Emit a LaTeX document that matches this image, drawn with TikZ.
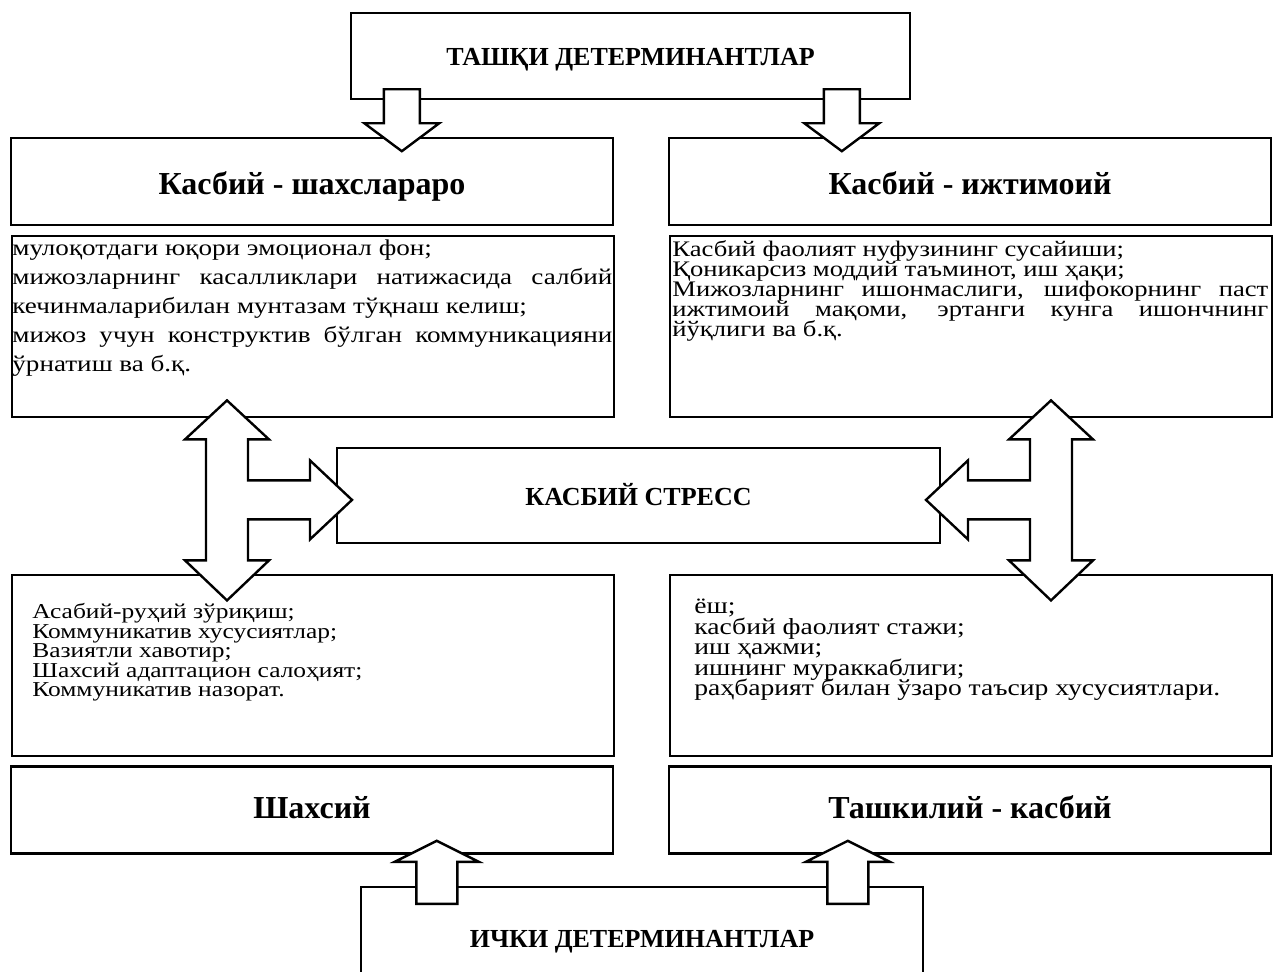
\documentclass[tikz,border=0pt]{standalone}
\usepackage{fontspec}
\setmainfont{Liberation Serif}
\newfontfamily\listfont{Liberation Serif}[FakeStretch=1.2]
\usetikzlibrary{positioning, calc}
\newcommand\tightlines{\lineskiplimit=-100pt\relax}
\tikzset{
    frame/.style={
        draw, line width=1.2pt, inner sep=0pt
    },
    capsbox/.style={
        frame, text height=9.6pt, text depth=0pt, font=\fontsize{13}{15}\selectfont\bfseries
    },
    headbox/.style={
        frame, minimum width=301pt, minimum height=43.5pt, text height=11.5pt, text depth=3.5pt,
        font=\fontsize{16}{19}\selectfont\bfseries
    },
    listbox/.style={
        frame, anchor=north west, minimum width=301pt, minimum height=90.5pt
    },
    listtext/.style={
        anchor=north west, inner sep=0pt, text width=#1
    },
    blockarrow/.style={
        draw, line width=1.2pt, fill=white, line join=miter
    }
}

\begin{document}
\begin{tikzpicture}[x=0.5pt, y=-0.5pt]
\useasboundingbox (0,0) rectangle (1276,971);
% boxes
\node[capsbox, minimum width=279.5pt, minimum height=43pt] (ext) at (630.5,56) {ТАШҚИ ДЕТЕРМИНАНТЛАР};
\node[headbox, text height=15.5pt, text depth=3pt] (interp) at (312,181.5) {Касбий - шахслараро};
\node[headbox, text height=15.5pt, text depth=3pt] (social) at (970,181.5) {Касбий - ижтимоий};
\node[listbox] (interpL) at (11,235) {};
\node[listbox] (socialL) at (669,235) {};
\node[capsbox, minimum width=301.5pt, minimum height=47.5pt] (stress) at (638.5,495.5) {КАСБИЙ СТРЕСС};
\node[listbox] (personL) at (11,574) {};
\node[listbox] (orgL) at (669,574) {};
\node[headbox] (person) at (312,810) {Шахсий};
\node[headbox] (org) at (970,810) {Ташкилий - касбий};
\node[capsbox, draw=none, minimum width=280pt, minimum height=50pt] (int) at (642,938) {ИЧКИ ДЕТЕРМИНАНТЛАР};
\draw[frame] (int.west |- 0,975) -- (int.north west) -- (int.north east) -- (int.east |- 0,975);

% texts
\node[listtext=300pt, align=justify, font=\listfont\fontsize{11.3}{14.5}\selectfont\tightlines] (interpT) at (interpL.north west) [xshift=0.5pt, yshift=-2pt]
  {мулоқотдаги юқори эмоционал фон;\\
   мижозларнинг касалликлари натижасида салбий\linebreak кечинмаларибилан мунтазам тўқнаш келиш;\\
   мижоз учун конструктив бўлган коммуникацияни\linebreak ўрнатиш ва б.қ.};
\node[listtext=298pt, align=justify, font=\listfont\fontsize{11.1}{10}\selectfont\tightlines] (socialT) at (socialL.north west) [xshift=1.5pt, yshift=-2.5pt]
  {Касбий фаолият нуфузининг сусайиши;\\
   Қоникарсиз моддий таъминот, иш ҳақи;\\
   Мижозларнинг ишонмаслиги, шифокорнинг паст\linebreak ижтимоий мақоми, эртанги кунга ишончнинг\linebreak йўқлиги ва б.қ.};
\node[listtext=280pt, align=flush left, font=\listfont\fontsize{10.6}{9.75}\selectfont\tightlines] (personT) at (personL.north west) [xshift=10.5pt, yshift=-14.5pt]
  {Асабий-руҳий зўриқиш;\\ Коммуникатив хусусиятлар;\\ Вазиятли хавотир;\\ Шахсий адаптацион салоҳият;\\ Коммуникатив назорат.};
\node[listtext=285pt, align=flush left, font=\listfont\fontsize{11.5}{10.25}\selectfont\tightlines] (orgT) at (orgL.north west) [xshift=12.5pt, yshift=-12.5pt]
  {ёш;\\ касбий фаолият стажи;\\ иш ҳажми;\\ ишнинг мураккаблиги;\\ раҳбарият билан ўзаро таъсир хусусиятлари.};

% arrows
\path (ext.south west) ++(52,-11) coordinate (dl);
\path (ext.south west) ++(492,-11) coordinate (dr);
\draw[blockarrow] (dl) ++(-18,0) -- ++(0,34) -- ++(-19.5,0) -- ++(37.5,28) -- ++(37.5,-28) -- ++(-19.5,0) -- ++(0,-34) -- cycle;
\draw[blockarrow] (dr) ++(-18,0) -- ++(0,34) -- ++(-19.5,0) -- ++(37.5,28) -- ++(37.5,-28) -- ++(-19.5,0) -- ++(0,-34) -- cycle;

\path (interpL.south west) ++(216,-18) coordinate (tl);
\path (socialL.south west) ++(382,-18) coordinate (tr);
\draw[blockarrow] (tl) -- ++(42,39) -- ++(-21,0) -- ++(0,41) -- ++(62,0) -- ++(0,-20) -- ++(42,39.5) -- ++(-42,39.5) -- ++(0,-20) -- ++(-62,0) -- ++(0,41) -- ++(21,0) -- ++(-42,40) -- ++(-42,-40) -- ++(21,0) -- ++(0,-121) -- ++(-21,0) -- cycle;
\draw[blockarrow] (tr) -- ++(-42,39) -- ++(21,0) -- ++(0,41) -- ++(-62,0) -- ++(0,-20) -- ++(-42,39.5) -- ++(42,39.5) -- ++(0,-20) -- ++(62,0) -- ++(0,41) -- ++(-21,0) -- ++(42,40) -- ++(42,-40) -- ++(-21,0) -- ++(0,-121) -- ++(21,0) -- cycle;

\path (int.north west) ++(76,17) coordinate (ul);
\path (int.north west) ++(487,17) coordinate (ur);
\draw[blockarrow] (ul) ++(-20.5,0) -- ++(0,-42) -- ++(-21.5,0) -- ++(42,-21) -- ++(42,21) -- ++(-21.5,0) -- ++(0,42) -- cycle;
\draw[blockarrow] (ur) ++(-20.5,0) -- ++(0,-42) -- ++(-21.5,0) -- ++(42,-21) -- ++(42,21) -- ++(-21.5,0) -- ++(0,42) -- cycle;
\end{tikzpicture}
\end{document}
